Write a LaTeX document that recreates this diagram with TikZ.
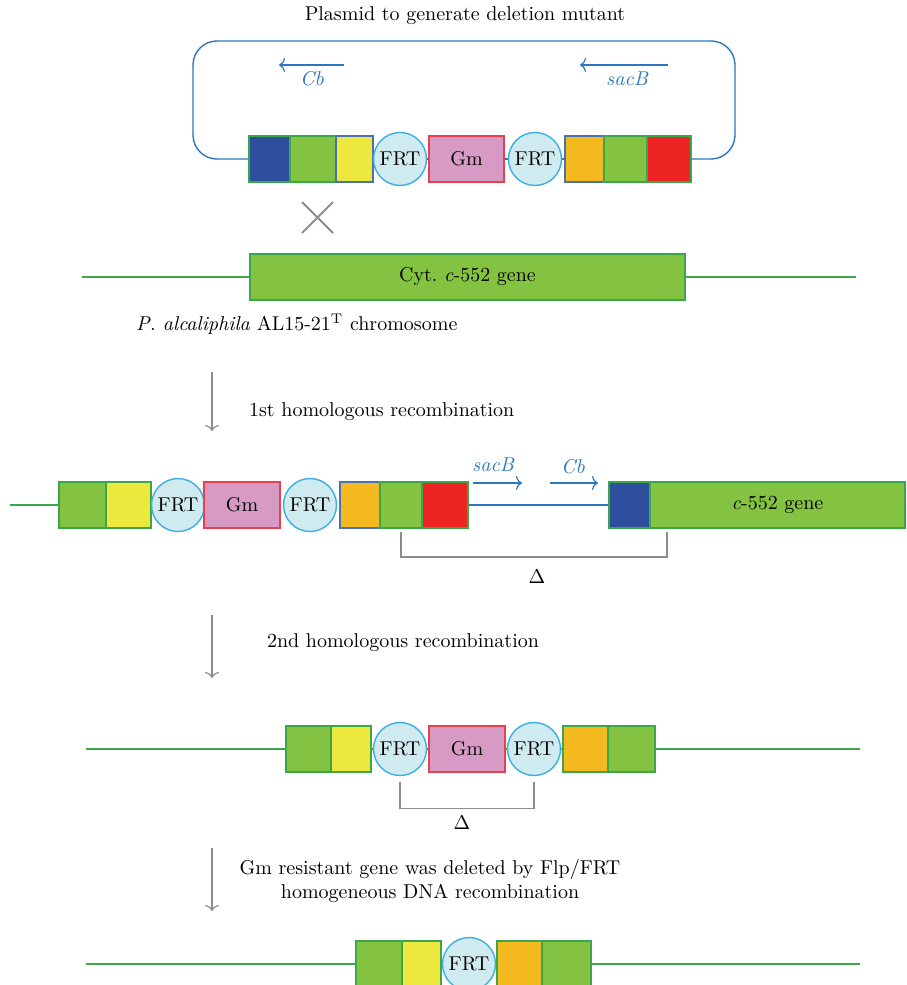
\documentclass[tikz,border=0pt]{standalone}
\usepackage{tikz}
\usetikzlibrary{arrows.meta,positioning}
\definecolor{dnagreen}{HTML}{3BA64A}
\definecolor{boxgreen}{HTML}{84C341}
\definecolor{boxblue}{HTML}{2E4F9E}
\definecolor{boxyellow}{HTML}{EDE83D}
\definecolor{boxorange}{HTML}{F4B91E}
\definecolor{boxred}{HTML}{EE2424}
\definecolor{frtfill}{HTML}{CFEBF0}
\definecolor{frtline}{HTML}{3BAEE3}
\definecolor{gmfill}{HTML}{D69AC4}
\definecolor{gmline}{HTML}{E8414D}
\definecolor{vecblue}{HTML}{2B78BE}
\definecolor{edgeblue}{HTML}{4A72AE}
\definecolor{arrgray}{HTML}{8C8C8C}

\begin{document}
\begin{tikzpicture}[x=0.5pt,y=-0.5pt, every text node part/.style={align=center}]
        \tikzset{
          seg/.style={draw=dnagreen, line width=0.7pt, inner sep=0pt, minimum height=23pt},
          frt/.style={circle, draw=frtline, fill=frtfill, line width=0.7pt, inner sep=0pt, minimum size=26.5pt},
          gm/.style={draw=gmline, fill=gmfill, line width=0.7pt, inner sep=0pt, minimum width=37.5pt, minimum height=23pt},
          dna/.style={draw=dnagreen, line width=0.7pt},
          vector/.style={draw=vecblue, line width=0.7pt},
          bluearrow/.style={draw=vecblue, line width=0.6pt, -{To[length=3pt,width=7pt]}},
          bluelabel/.style={text=vecblue, font=\itshape},
          procarrow/.style={draw=arrgray, line width=0.6pt, -{To[length=3pt,width=7pt]}},
          bracket/.style={draw=arrgray, line width=0.7pt},
        }
        \useasboundingbox (0,0) rectangle (906,985);
        % plasmid
        \node (title) at (465,16) {Plasmid to generate deletion mutant};
        \node[seg, fill=boxblue, minimum width=20.5pt] (p1blue) at (269.5,159) {};
        \node[seg, fill=boxgreen, minimum width=23pt] (p1green) at (313,159) {};
        \node[seg, draw=edgeblue, fill=boxyellow, minimum width=18.5pt] (p1yellow) at (354.5,159) {};
        \node[frt] (p1frtA) at (400,159) {FRT};
        \node[gm] (p1gm) at (466.5,159) {Gm};
        \node[frt] (p1frtB) at (535,159) {FRT};
        \node[seg, draw=edgeblue, fill=boxorange, minimum width=19.5pt] (p1orange) at (584.5,159) {};
        \node[seg, fill=boxgreen, minimum width=21.5pt] (p1green2) at (625.5,159) {};
        \node[seg, fill=boxred, minimum width=22pt] (p1red) at (669,159) {};
        \coordinate (loopTL) at (193,41);
        \coordinate (loopBR) at (735,159);
        \draw[vector, rounded corners=12pt] (p1blue.west) -| (loopTL) -| (loopBR) -- (p1red.east);
        \draw[vector] (p1frtA.east) -- (p1gm.west);
        \draw[vector] (p1gm.east) -- (p1frtB.west);
        \draw[vector] (p1frtB.east) -- (p1orange.west);
        \coordinate (cbS) at (344,65);
        \coordinate (cbE) at (279,65);
        \draw[bluearrow] (cbS) -- (cbE);
        \node[bluelabel] (cbL) at (312,79) {Cb};
        \coordinate (sbS) at (668,65);
        \coordinate (sbE) at (580,65);
        \draw[bluearrow] (sbS) -- (sbE);
        \node[bluelabel] (sbL) at (627,79) {sacB};
        % crossover
        \coordinate (xa) at (302,202);
        \coordinate (xb) at (333,233);
        \coordinate (xc) at (333,202);
        \coordinate (xd) at (302,233);
        \draw[arrgray, line width=1pt] (xa) -- (xb) (xc) -- (xd);
        % chromosome
        \node[seg, fill=boxgreen, minimum width=217.5pt] (cyt) at (467.5,277) {Cyt.\ \textit{c}-552 gene};
        \coordinate (chL) at (82,277);
        \coordinate (chR) at (856,277);
        \draw[dna] (chL) -- (cyt.west);
        \draw[dna] (cyt.east) -- (chR);
        \node[anchor=west] (chrom) at (129,324) {\textit{P.\ alcaliphila} AL15-21\textsuperscript{T} chromosome};
        % step 1
        \coordinate (s1a) at (212,372);
        \coordinate (s1b) at (212,431);
        \draw[procarrow] (s1a) -- (s1b);
        \node[anchor=west] (s1txt) at (242,412) {1st homologous recombination};
        \node[seg, fill=boxgreen, minimum width=23.5pt] (r2green) at (82.5,505) {};
        \node[seg, fill=boxyellow, minimum width=22.5pt] (r2yellow) at (128.5,505) {};
        \node[frt] (r2frtA) at (178,505) {FRT};
        \node[gm, minimum width=38pt] (r2gm) at (242,505) {Gm};
        \node[frt] (r2frtB) at (310,505) {FRT};
        \node[seg, draw=edgeblue, fill=boxorange, minimum width=20pt] (r2orange) at (360,505) {};
        \node[seg, fill=boxgreen, minimum width=21pt] (r2green2) at (401,505) {};
        \node[seg, fill=boxred, minimum width=23pt] (r2red) at (445,505) {};
        \node[seg, fill=boxblue, minimum width=20.5pt] (r2blue) at (629.5,505) {};
        \node[seg, fill=boxgreen, minimum width=127.5pt] (r2gene) at (777.5,505) {\textit{c}-552 gene};
        \coordinate (r2L) at (10,505);
        \draw[dna] (r2L) -- (r2green.west);
        \draw[vector] (r2red.east) -- (r2blue.west);
        \coordinate (r2sbS) at (473,483);
        \coordinate (r2sbE) at (522,483);
        \draw[bluearrow] (r2sbS) -- (r2sbE);
        \node[bluelabel] (r2sbL) at (493,465) {sacB};
        \coordinate (r2cbS) at (550,483);
        \coordinate (r2cbE) at (598,483);
        \draw[bluearrow] (r2cbS) -- (r2cbE);
        \node[bluelabel] (r2cbL) at (573,467) {Cb};
        \coordinate (r2brR) at (667,532);
        \draw[bracket] (r2green2.south |- r2brR) -- ++(0,25) -| (r2brR);
        \node (r2delta) at (537,577) {$\Delta$};
        % step 2
        \coordinate (s2a) at (212,615);
        \coordinate (s2b) at (212,678);
        \draw[procarrow] (s2a) -- (s2b);
        \node[anchor=west] (s2txt) at (260,643) {2nd homologous recombination};
        \node[seg, fill=boxgreen, minimum width=22.5pt] (r3green) at (308.5,749) {};
        \node[seg, fill=boxyellow, minimum width=20pt] (r3yellow) at (351,749) {};
        \node[frt] (r3frtA) at (400,749) {FRT};
        \node[gm, minimum width=38pt] (r3gm) at (467,749) {Gm};
        \node[frt] (r3frtB) at (534,749) {FRT};
        \node[seg, fill=boxorange, minimum width=22.5pt] (r3orange) at (585.5,749) {};
        \node[seg, fill=boxgreen, minimum width=23.5pt] (r3green2) at (631.5,749) {};
        \coordinate (r3L) at (86,749);
        \coordinate (r3R) at (860,749);
        \draw[dna] (r3L) -- (r3green.west);
        \draw[dna] (r3yellow.east) -- (r3frtA.west);
        \draw[dna] (r3frtA.east) -- (r3gm.west);
        \draw[dna] (r3gm.east) -- (r3frtB.west);
        \draw[dna] (r3frtB.east) -- (r3orange.west);
        \draw[dna] (r3green2.east) -- (r3R);
        \draw[bracket] ([yshift=-3pt]r3frtA.south) -- ++(0,26) -| ([yshift=-3pt]r3frtB.south);
        \node (r3delta) at (462,823) {$\Delta$};
        % step 3
        \coordinate (s3a) at (212,848);
        \coordinate (s3b) at (212,911);
        \draw[procarrow] (s3a) -- (s3b);
        \node (s3txt) at (430,881) {Gm resistant gene was deleted by Flp/FRT\\homogeneous DNA recombination};
        \node[seg, fill=boxgreen, minimum width=23pt] (r4green) at (379,964) {};
        \node[seg, fill=boxyellow, minimum width=19.5pt] (r4yellow) at (421.5,964) {};
        \node[frt] (r4frt) at (469,964) {FRT};
        \node[seg, fill=boxorange, minimum width=22.5pt] (r4orange) at (519.5,964) {};
        \node[seg, fill=boxgreen, minimum width=24.5pt] (r4green2) at (566.5,964) {};
        \coordinate (r4L) at (86,964);
        \coordinate (r4R) at (860,964);
        \draw[dna] (r4L) -- (r4green.west);
        \draw[dna] (r4frt.east) -- (r4orange.west);
        \draw[dna] (r4green2.east) -- (r4R);
    \end{tikzpicture}
\end{document}
